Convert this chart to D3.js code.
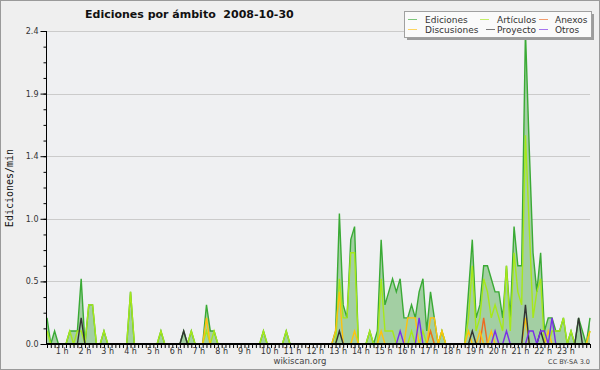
<!DOCTYPE html>
<html><head><meta charset="utf-8">
<script src="https://cdn.jsdelivr.net/npm/d3@7"></script>
<style>html,body{margin:0;padding:0;background:#efefef}svg{display:block}</style>
</head><body>
<script>
// ---- data (10-minute steps, 144 points) ----
const hourLabels = ["1 h","2 h","3 h","4 h","5 h","6 h","7 h","8 h","9 h","10 h","11 h","12 h","13 h","14 h","15 h","16 h","17 h","18 h","19 h","20 h","21 h","22 h","23 h"];
const yTickValues = [0, 0.48, 0.96, 1.44, 1.92, 2.4];
const yTickLabels = ["0.0","0.5","1.0","1.4","1.9","2.4"];
const seriesNames = ["Ediciones","Artículos","Anexos","Discusiones","Proyecto","Otros"];
const ediciones = [
 0.2,0,0.1,0,0,0,0.1,0.1,0.1,0.5,0,0.3,
 0.3,0,0,0.1,0,0,0,0,0,0,0.4,0,
 0,0,0,0,0,0,0.1,0,0,0,0,0,
 0.1,0,0.1,0,0,0,0.3,0.1,0.1,0,0,0,
 0,0,0,0,0,0,0,0,0,0.1,0,0,
 0,0,0,0.1,0,0,0,0,0,0,0,0,
 0,0,0,0,0.1,1.0,0.3,0.2,0.8,0.9,0,0,
 0,0.1,0,0.1,0.8,0.3,0.4,0.5,0.4,0.5,0.2,0.2,
 0.3,0.2,0.4,0.5,0.1,0.4,0.2,0,0.1,0,0,0,
 0,0,0,0.4,0.8,0.2,0.3,0.6,0.6,0.5,0.4,0.4,
 0.2,0.6,0.2,0.9,0.6,0.6,2.4,1.5,0.7,0.4,0.7,0.1,
 0.2,0.2,0.1,0.1,0.2,0,0.1,0,0.2,0.1,0,0.2];
const articulos = [
 0.1,0,0,0,0,0,0.1,0,0.1,0.1,0,0.3,
 0.3,0,0,0.1,0,0,0,0,0,0,0.4,0,
 0,0,0,0,0,0,0.1,0,0,0,0,0,
 0,0,0.1,0,0,0,0.1,0,0.1,0,0,0,
 0,0,0,0,0,0,0,0,0,0.1,0,0,
 0,0,0,0.1,0,0,0,0,0,0,0,0,
 0,0,0,0,0,0.5,0.2,0.2,0.7,0.7,0,0,
 0,0.1,0,0,0.5,0.1,0.1,0.1,0,0,0,0,
 0.1,0,0,0.1,0,0.1,0,0,0.1,0,0,0,
 0,0,0,0.2,0.6,0.1,0.2,0.5,0.4,0.2,0.3,0.2,
 0.1,0.6,0.1,0.7,0.4,0.3,1.6,0.9,0.2,0.4,0.5,0,
 0,0.1,0.1,0.1,0.2,0,0.1,0,0,0,0,0.1];
const anexos = [
 0,0,0,0,0,0,0,0,0,0,0,0,
 0,0,0,0,0,0,0,0,0,0,0,0,
 0,0,0,0,0,0,0,0,0,0,0,0,
 0,0,0,0,0,0,0,0,0,0,0,0,
 0,0,0,0,0,0,0,0,0,0,0,0,
 0,0,0,0,0,0,0,0,0,0,0,0,
 0,0,0,0,0,0,0,0,0,0,0,0,
 0,0,0,0,0,0,0,0,0,0,0,0,
 0,0,0,0,0,0.1,0,0,0,0,0,0,
 0,0,0,0,0,0,0,0.2,0,0,0,0,
 0,0,0,0,0,0,0,0,0,0,0,0,
 0,0,0,0,0,0,0,0,0,0,0,0];
const discusiones = [
 0,0,0,0,0,0,0,0,0,0,0,0,
 0,0,0,0,0,0,0,0,0,0,0,0,
 0,0,0,0,0,0,0,0,0,0,0,0,
 0,0,0,0,0,0,0.2,0,0,0,0,0,
 0,0,0,0,0,0,0,0,0,0,0,0,
 0,0,0,0,0,0,0,0,0,0,0,0,
 0,0,0,0,0.1,0.4,0,0,0,0.1,0,0,
 0,0,0,0,0.1,0,0,0,0,0,0,0.2,
 0.2,0.2,0,0,0,0.2,0.2,0,0.1,0,0,0,
 0,0,0,0.1,0,0,0.1,0,0,0.1,0,0,
 0,0,0,0,0,0,0.2,0,0,0,0,0,
 0.1,0,0,0,0,0,0,0,0,0,0,0.1];
const proyecto = [
 0,0,0,0,0,0,0,0,0,0.2,0,0,
 0,0,0,0,0,0,0,0,0,0,0,0,
 0,0,0,0,0,0,0,0,0,0,0,0,
 0.1,0,0,0,0,0,0,0,0,0,0,0,
 0,0,0,0,0,0,0,0,0,0,0,0,
 0,0,0,0,0,0,0,0,0,0,0,0,
 0,0,0,0,0,0.1,0,0,0,0,0,0,
 0,0,0,0,0,0,0,0,0,0,0,0,
 0,0,0,0,0,0,0,0,0,0,0,0,
 0,0,0,0,0.1,0,0,0,0,0,0,0,
 0,0,0,0,0,0,0.3,0,0,0,0.1,0,
 0,0,0,0,0,0,0,0,0.2,0,0,0];
const otros = [
 0,0,0,0,0,0,0,0,0,0,0,0,
 0,0,0,0,0,0,0,0,0,0,0,0,
 0,0,0,0,0,0,0,0,0,0,0,0,
 0,0,0,0,0,0,0,0,0,0,0,0,
 0,0,0,0,0,0,0,0,0,0,0,0,
 0,0,0,0,0,0,0,0,0,0,0,0,
 0,0,0,0,0,0,0,0,0,0,0,0,
 0,0,0,0,0,0,0,0,0,0.1,0,0,
 0,0,0.2,0,0,0,0,0,0,0,0,0,
 0,0,0,0,0,0,0,0,0,0,0.1,0,
 0,0.1,0,0,0,0,0,0.1,0.1,0,0.1,0.1,
 0,0.2,0,0,0,0,0,0,0,0,0,0];
const seriesData = [ediciones, articulos, anexos, discusiones, proyecto, otros];
const seriesColors = ["#3aaa35","#a6e81a","#ee6a22","#ffc20e","#333333","#7a2ee8"];

// ---- drawing ----
const W = 600, H = 370;
const svg = d3.select("body").append("svg").attr("width", W).attr("height", H)
  .style("font-family", "'DejaVu Sans', sans-serif");
svg.append("rect").attr("x",0.5).attr("y",0.5).attr("width",W-1).attr("height",H-1)
  .attr("fill","#efefef").attr("stroke","#9a9a9a");
svg.append("rect").attr("x",46).attr("y",31).attr("width",544).attr("height",313).attr("fill","#eff0f2");

const x = d3.scaleLinear().domain([0, 143]).range([47, 590]);
const y = d3.scaleLinear().domain([0, 2.4]).range([344, 31]);

// grid
svg.append("g").selectAll("line").data(yTickValues.slice(1)).join("line")
  .attr("x1",46).attr("x2",590).attr("y1",d=>Math.round(y(d))+0.5).attr("y2",d=>Math.round(y(d))+0.5)
  .attr("stroke","#cbcbcb").attr("stroke-width",1);

// area + lines
const area = d3.area().x((d,i)=>x(i)).y0(y(0)).y1(d=>y(d));
const line = d3.line().x((d,i)=>x(i)).y(d=>y(d));
svg.append("path").datum(ediciones).attr("d",area).attr("fill","#a3cfa3");
seriesData.forEach((s,k)=>{
  svg.append("path").datum(s).attr("d",line).attr("fill","none")
    .attr("stroke",seriesColors[k]).attr("stroke-width",1.4).attr("stroke-linejoin","miter");
});

// axes
const yMinor = d3.axisLeft(y).tickValues(d3.range(0, 21).map(i=>i*0.12)).tickSize(3).tickFormat("");
const gMin = svg.append("g").attr("transform","translate(46.5,0)").call(yMinor);
gMin.select(".domain").remove();
const yAxis = d3.axisLeft(y).tickValues(yTickValues).tickFormat((d,i)=>yTickLabels[i]).tickSize(6).tickPadding(2);
const gy = svg.append("g").attr("transform","translate(46.5,0)").call(yAxis);
gy.selectAll("text").attr("font-size",8).attr("fill","#333").attr("font-family","'DejaVu Sans', sans-serif");
gy.select(".domain").attr("d","M0,31V344");
svg.selectAll(".tick line").attr("stroke","#000");

const xAxis = d3.axisBottom(x).tickValues(d3.range(0,144)).tickSize(4).tickFormat("");
const gx = svg.append("g").attr("transform","translate(0,344)").call(xAxis);
gx.select(".domain").attr("d","M46,0H590").attr("stroke-width",2);
gx.selectAll(".tick line").attr("stroke","#000");

svg.append("g").selectAll("text").data(hourLabels).join("text")
  .attr("x",(d,i)=>x(6*(i+1))-14).attr("y",354).attr("font-size",8).attr("fill","#333").text(d=>d);

// y axis title
svg.append("text").attr("transform","translate(13,188) rotate(-90)").attr("text-anchor","middle")
  .attr("font-family","'DejaVu Sans Mono', monospace").attr("font-size",10).attr("fill","#111").text("Ediciones/min");

// title
svg.append("text").attr("x",85).attr("y",18).attr("font-size",11).attr("font-weight","bold")
  .attr("fill","#111").style("white-space","pre").text("Ediciones por ámbito  2008-10-30");

// footer
svg.append("text").attr("x",300).attr("y",364).attr("text-anchor","middle").attr("font-size",8.5).attr("fill","#444").text("wikiscan.org");
svg.append("text").attr("x",590).attr("y",364).attr("text-anchor","end").attr("font-size",6.5).attr("fill","#444").text("CC BY-SA 3.0");

// legend
const lg = svg.append("g");
lg.append("rect").attr("x",407).attr("y",14).attr("width",187).attr("height",26).attr("fill","#9c9c9c");
lg.append("rect").attr("x",404.5).attr("y",11.5).attr("width",187).attr("height",26).attr("fill","#fafafa").attr("stroke","#a0a0a0");
const legPos = [
  {lx:408, tx:425, row:0},{lx:480, tx:497, row:0},{lx:539, tx:555, row:0},
  {lx:408, tx:425, row:1},{lx:486, tx:497, row:1},{lx:539, tx:555, row:1}];
seriesNames.forEach((n,k)=>{
  const p = legPos[k], ly = p.row===0 ? 19.5 : 29.5, ty = p.row===0 ? 22.5 : 32.5;
  lg.append("line").attr("x1",p.lx).attr("x2",p.lx+9).attr("y1",ly).attr("y2",ly)
    .attr("stroke",seriesColors[k]).attr("stroke-opacity",0.65).attr("stroke-width",1);
  lg.append("text").attr("x",p.tx).attr("y",ty).attr("font-size",9).attr("fill","#333").text(n);
});
</script>
</body></html>
